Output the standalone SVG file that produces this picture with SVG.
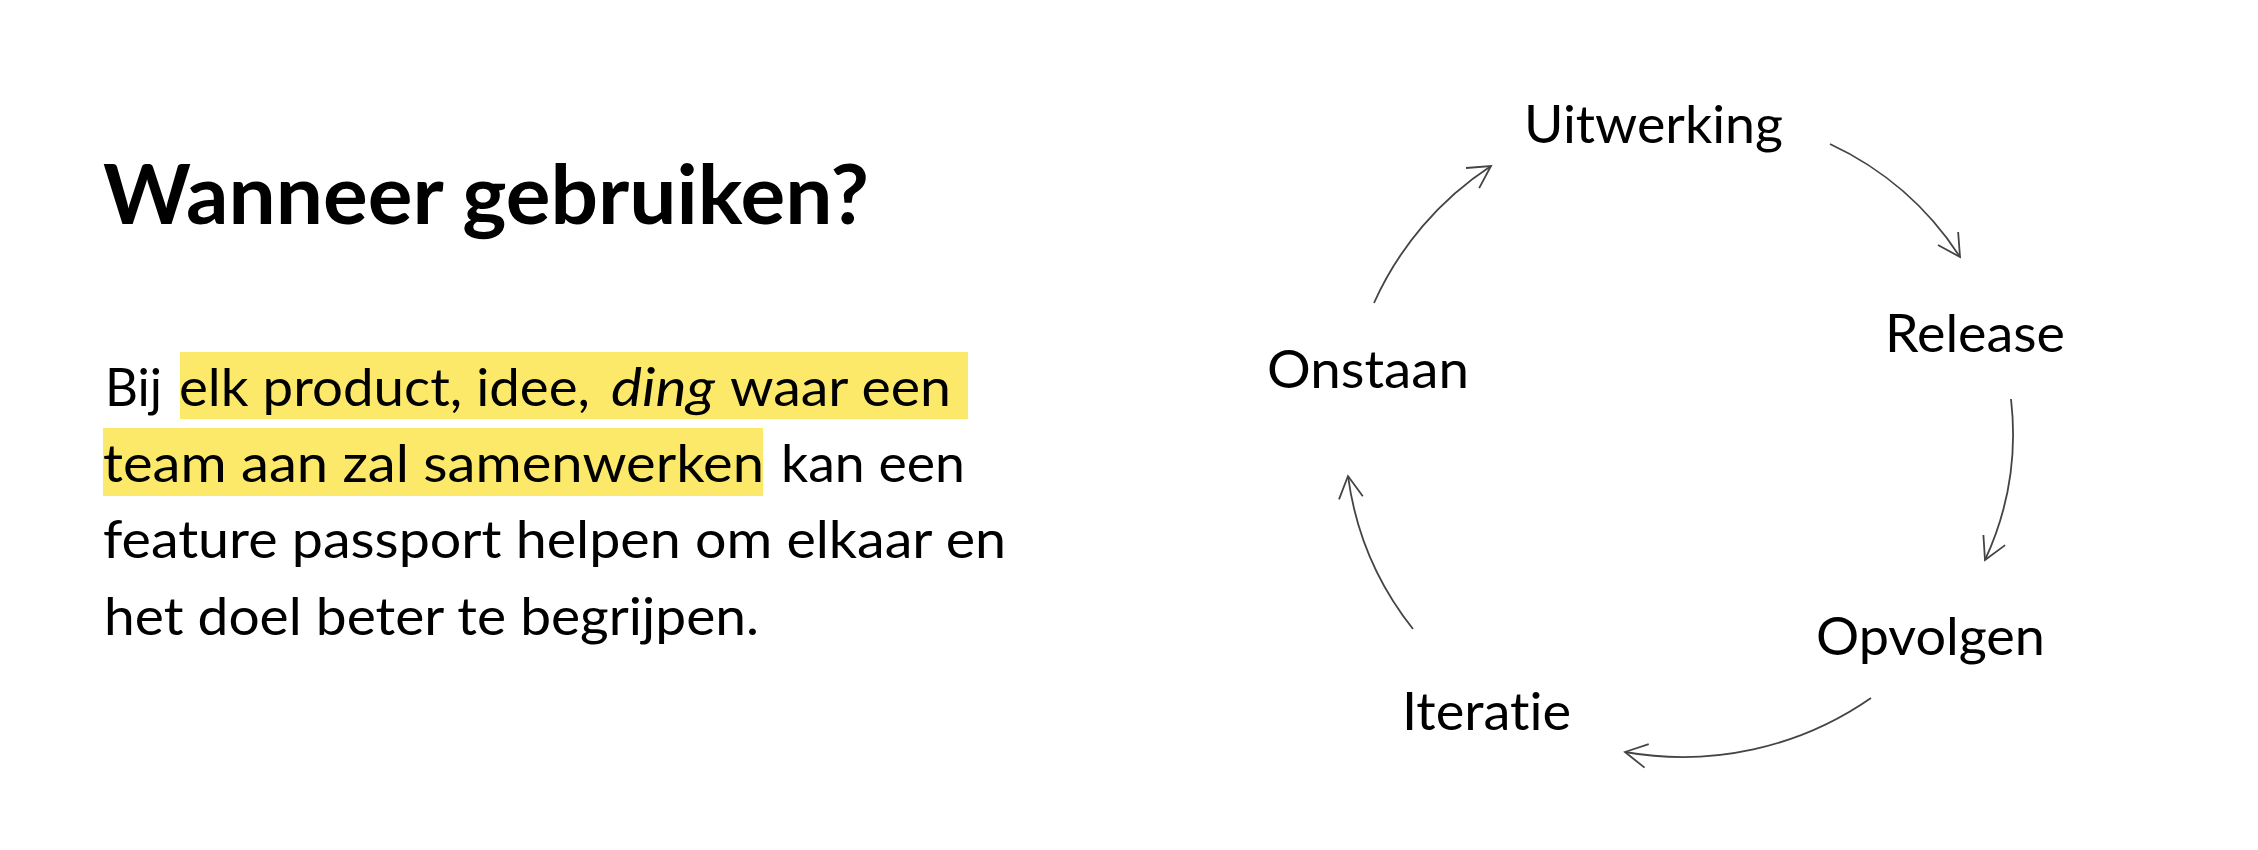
<svg xmlns="http://www.w3.org/2000/svg" width="2258" height="850" viewBox="0 0 2258 850">
  <style>
    .t { font-family: Lato, "Noto Sans", "Liberation Sans", sans-serif; fill: #000; font-variant-ligatures: none; font-feature-settings: "liga" 0, "clig" 0, "dlig" 0; }
    .title { font-size: 82px; font-weight: 700; }
    .body { font-size: 52px; font-weight: 400; }
    .it { font-style: italic; }
    .hl { fill: #FCE96A; }
    .arc { fill: none; stroke: #444; stroke-width: 1.8; marker-end: url(#chev); }
  </style>
  <defs>
    <marker id="chev" markerUnits="userSpaceOnUse" markerWidth="40" markerHeight="40" viewBox="-30 -20 40 40" refX="0" refY="0" orient="auto">
      <path d="M -22 -12 L 0 0 L -22 12" fill="none" stroke="#444" stroke-width="1.8"/>
    </marker>
  </defs>
  <rect width="2258" height="850" fill="#fff"/>

  <g id="title">
    <text class="t title" x="103" y="224" textLength="766" lengthAdjust="spacingAndGlyphs">Wanneer gebruiken?</text>
  </g>

  <g id="paragraph">
    <rect class="hl" x="180" y="352" width="788" height="67"/>
    <rect class="hl" x="103" y="428" width="660" height="68"/>
    <text class="t body" x="105" y="406" textLength="57" lengthAdjust="spacingAndGlyphs">Bij</text>
    <text class="t body" x="179" y="406" textLength="411" lengthAdjust="spacingAndGlyphs">elk product, idee,</text>
    <text class="t body it" x="611" y="406" textLength="104" lengthAdjust="spacingAndGlyphs">ding</text>
    <text class="t body" x="730" y="406" textLength="221" lengthAdjust="spacingAndGlyphs">waar een</text>
    <text class="t body" x="103" y="482" textLength="661" lengthAdjust="spacingAndGlyphs">team aan zal samenwerken</text>
    <text class="t body" x="781" y="482" textLength="184" lengthAdjust="spacingAndGlyphs">kan een</text>
    <text class="t body" x="103" y="558" textLength="903" lengthAdjust="spacingAndGlyphs">feature passport helpen om elkaar en</text>
    <text class="t body" x="104" y="635" textLength="655" lengthAdjust="spacingAndGlyphs">het doel beter te begrijpen.</text>
  </g>

  <g id="connectors">
    <path class="arc" d="M 1374 303 A 320 320 0 0 1 1491 166"/>
    <path class="arc" d="M 1830 144 A 310 310 0 0 1 1960 257"/>
    <path class="arc" d="M 2011 399 A 300 300 0 0 1 1985 560"/>
    <path class="arc" d="M 1871 698 A 330 330 0 0 1 1625 752"/>
    <path class="arc" d="M 1413 629 A 312 312 0 0 1 1348 476"/>
  </g>

  <g id="node-onstaan">
    <text class="t body" x="1267" y="388" textLength="202" lengthAdjust="spacingAndGlyphs">Onstaan</text>
  </g>
  <g id="node-uitwerking">
    <text class="t body" x="1524" y="143" textLength="259" lengthAdjust="spacingAndGlyphs">Uitwerking</text>
  </g>
  <g id="node-release">
    <text class="t body" x="1885" y="352" textLength="180" lengthAdjust="spacingAndGlyphs">Release</text>
  </g>
  <g id="node-opvolgen">
    <text class="t body" x="1816" y="655" textLength="229" lengthAdjust="spacingAndGlyphs">Opvolgen</text>
  </g>
  <g id="node-iteratie">
    <text class="t body" x="1402" y="730" textLength="169" lengthAdjust="spacingAndGlyphs">Iteratie</text>
  </g>
</svg>
